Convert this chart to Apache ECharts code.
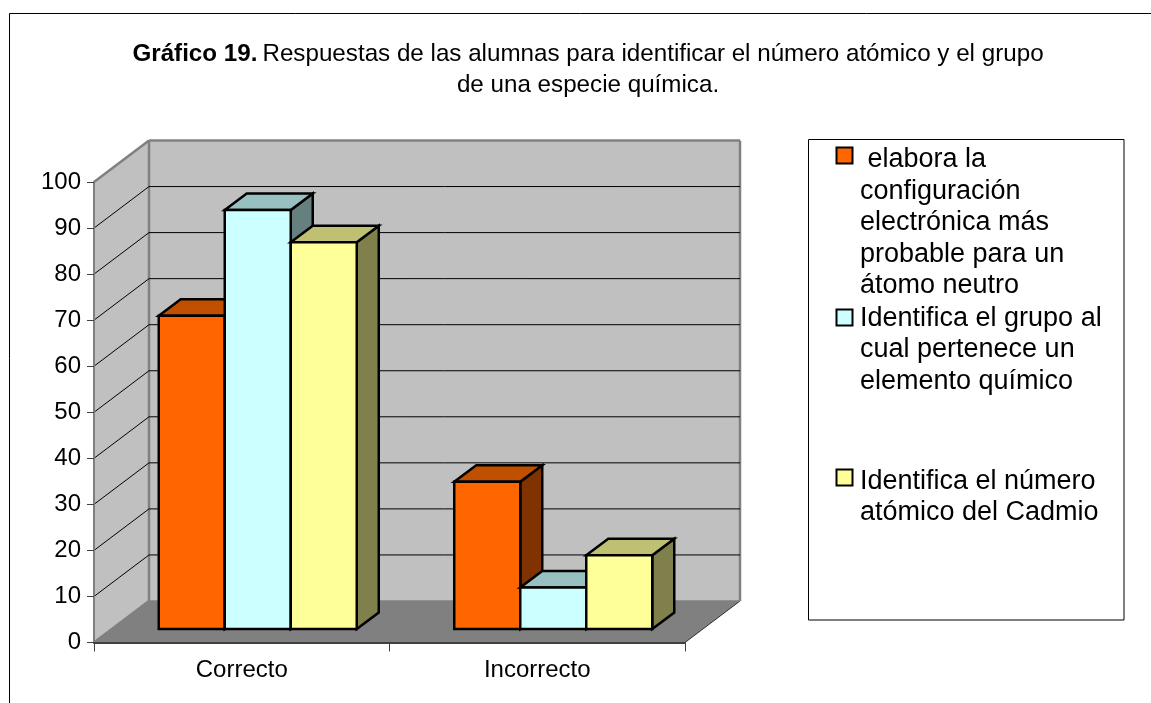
<!DOCTYPE html>
<html>
<head>
<meta charset="utf-8">
<script src="https://cdn.jsdelivr.net/npm/echarts@6/dist/echarts.min.js"></script>
<style>
  html, body { margin: 0; padding: 0; background: #fff; }
  #chart { width: 1151px; height: 703px; }
</style>
</head>
<body>
<div id="chart"></div>
<script>
const categories = ['Correcto', 'Incorrecto'];
const yTicks = [0, 10, 20, 30, 40, 50, 60, 70, 80, 90, 100];
const elaboraValues = [68, 32];
const grupoValues = [91, 9];
const numeroValues = [84, 16];
const elaboraLines = [' elabora la', 'configuración', 'electrónica más', 'probable para un', 'átomo neutro'];
const grupoLines = ['Identifica el grupo al', 'cual pertenece un', 'elemento químico'];
const numeroLines = ['Identifica el número', 'atómico del Cadmio'];

const FONT = '"Liberation Sans", Arial, sans-serif';
const DEPTH = { x: 55, y: -41.5 };        // wall offset behind the front plane
const BAR_DEPTH = { x: 22, y: -16.5 };    // depth of a single bar
const BAR_INSET = { x: 16, y: -13.5 };    // front of the bars relative to the front plane
const BAR_WIDTH = 66;
const LEGEND_LINE = 31.5;

const poly = (points, fill, stroke, width) => ({
  type: 'polygon',
  shape: { points },
  style: { fill, stroke: stroke || 'none', lineWidth: width || 0, lineJoin: 'miter' }
});
const line = (a, b, stroke, width) => ({
  type: 'line',
  shape: { x1: a[0], y1: a[1], x2: b[0], y2: b[1] },
  style: { stroke, lineWidth: width }
});

// Side wall, back wall and floor of the 3D box
function renderBox(params, api) {
  const band = api.size([1, 0])[0];
  const c0 = api.coord([0, 0]);
  const c1 = api.coord([0, api.value(1)]);
  const left = c0[0] - band / 2;
  const right = left + band * categories.length;
  const bottom = c0[1];
  const top = c1[1];
  const bx = left + DEPTH.x, bb = bottom + DEPTH.y, bt = top + DEPTH.y, br = right + DEPTH.x;
  return {
    type: 'group',
    children: [
      poly([[bx, bb], [br, bb], [br, bt], [bx, bt]], '#c0c0c0'),
      poly([[left, bottom], [bx, bb], [bx, bt], [left, top]], '#c0c0c0'),
      poly([[left, bottom], [right, bottom], [br, bb], [bx, bb]], '#808080'),
      line([right, bottom], [br, bb], '#303030', 1),
      line([left, top], [bx, bt], '#808080', 2.5),
      line([bx, bt], [br, bt], '#808080', 2.5),
      line([bx, bt], [bx, bb], '#808080', 2.5),
      line([br, bt], [br, bb], '#808080', 2.5),
      line([bx, bb], [br, bb], '#808080', 1.5),
      line([left, bottom], [bx, bb], '#808080', 2.5)
    ]
  };
}

// One gridline per tick, running back along the side wall and across the back wall
function renderGridline(params, api) {
  const v = api.value(1);
  if (v === 0 || v === 100) return null;
  const band = api.size([1, 0])[0];
  const c = api.coord([0, v]);
  const left = c[0] - band / 2;
  const bx = left + DEPTH.x, by = c[1] + DEPTH.y;
  return {
    type: 'group',
    children: [
      line([left, c[1]], [bx, by], '#000', 1),
      line([bx, by], [left + band * categories.length + DEPTH.x, by], '#000', 1)
    ]
  };
}

// A bar drawn as a front face, a lit top and a shaded side
function makeBarRenderer(position, front, topFill, sideFill) {
  return function (params, api) {
    const zero = api.coord([api.value(0), 0]);
    const tip = api.coord([api.value(0), api.value(1)]);
    const x0 = zero[0] + BAR_INSET.x + (position - 1.5) * BAR_WIDTH;
    const x1 = x0 + BAR_WIDTH;
    const yb = zero[1] + BAR_INSET.y;
    const yt = tip[1] + BAR_INSET.y;
    const dx = BAR_DEPTH.x, dy = BAR_DEPTH.y;
    return {
      type: 'group',
      children: [
        poly([[x1, yt], [x1 + dx, yt + dy], [x1 + dx, yb + dy], [x1, yb]], sideFill, '#000', 2.5),
        poly([[x0, yt], [x0 + dx, yt + dy], [x1 + dx, yt + dy], [x1, yt]], topFill, '#000', 2.5),
        poly([[x0, yb], [x0, yt], [x1, yt], [x1, yb]], front, '#000', 2.5)
      ]
    };
  };
}

function barSeries(name, values, position, front, topFill, sideFill) {
  return {
    name,
    type: 'custom',
    z: 4,
    itemStyle: { color: front },
    encode: { x: 0, y: 1 },
    data: values.map((v, i) => [i, v]),
    renderItem: makeBarRenderer(position, front, topFill, sideFill)
  };
}

// Each legend entry keeps its swatch level with the first text line:
// a spacer line above the text balances the lines below it, and its
// height sets how far the text sits under the swatch centre.
function legendFor(lines, fill, iconCenterY, textDrop) {
  const name = lines.join(' ');
  const spacer = (lines.length - 1) * LEGEND_LINE + 2 * textDrop;
  const blockHeight = spacer + lines.length * LEGEND_LINE;
  const textLine = { fontFamily: FONT, fontSize: 27, lineHeight: LEGEND_LINE, color: '#000', padding: [0, 0, 0, 2.5] };
  return {
    data: [{ name, icon: 'rect', itemStyle: { color: fill, borderColor: '#000', borderWidth: 2 } }],
    orient: 'vertical',
    left: 835.5,
    top: iconCenterY - blockHeight / 2,
    padding: 0,
    itemWidth: 16,
    itemHeight: 16,
    selectedMode: false,
    formatter: () => ['{s| }'].concat(lines.map(t => '{t|' + t + '}')).join('\n'),
    textStyle: {
      rich: {
        s: { fontSize: 1, lineHeight: spacer, height: spacer },
        t: textLine
      }
    }
  };
}

const chart = echarts.init(document.getElementById('chart'), null, { renderer: 'canvas' });

chart.setOption({
  animation: false,
  backgroundColor: '#fff',
  title: {
    left: 583,
    top: 34,
    textAlign: 'center',
    text: '{b|Gráfico 19.} {n|Respuestas de las alumnas para identificar el número atómico y el grupo}\n{n|de una especie química.}',
    textStyle: {
      fontWeight: 'normal',
      rich: {
        b: { fontFamily: FONT, fontSize: 24.2, fontWeight: 'bold', color: '#000', lineHeight: 31 },
        n: { fontFamily: FONT, fontSize: 24.2, fontWeight: 'normal', color: '#000', lineHeight: 31 }
      }
    }
  },
  legend: [
    legendFor(elaboraLines, '#ff6600', 155.5, 4.5),
    legendFor(grupoLines, '#ccffff', 317.5, 1),
    legendFor(numeroLines, '#ffff99', 477.5, 4)
  ],
  grid: { left: 94, right: 466, top: 182, bottom: 60.5 },
  xAxis: {
    type: 'category',
    data: categories,
    z: 10,
    axisLine: { show: true, lineStyle: { color: '#404040', width: 2 } },
    axisTick: { show: true, length: 9, lineStyle: { color: '#404040', width: 1 } },
    axisLabel: { fontFamily: FONT, fontSize: 24, color: '#000', margin: 16 }
  },
  yAxis: {
    type: 'value',
    min: 0,
    max: 100,
    interval: 10,
    z: 10,
    splitLine: { show: false },
    axisLine: { show: true, lineStyle: { color: '#808080', width: 2 } },
    axisTick: { show: true, length: 7, lineStyle: { color: '#404040', width: 1 } },
    axisLabel: { fontFamily: FONT, fontSize: 24, color: '#000', margin: 13 }
  },
  series: [
    { type: 'custom', z: 1, silent: true, encode: { x: 0, y: 1 }, data: [[0, 100]], renderItem: renderBox },
    { type: 'custom', z: 2, silent: true, encode: { x: 0, y: 1 }, data: yTicks.map(v => [0, v]), renderItem: renderGridline },
    barSeries(elaboraLines.join(' '), elaboraValues, 0, '#ff6600', '#c05000', '#803300'),
    barSeries(grupoLines.join(' '), grupoValues, 1, '#ccffff', '#99c0c0', '#668080'),
    barSeries(numeroLines.join(' '), numeroValues, 2, '#ffff99', '#c0c073', '#80804d')
  ],
  graphic: [
    { type: 'rect', z: -1, silent: true, shape: { x: 9.5, y: 13.5, width: 1300, height: 900 }, style: { fill: 'none', stroke: '#000', lineWidth: 1 } },
    { type: 'rect', z: -1, silent: true, shape: { x: 808.5, y: 139.5, width: 315.5, height: 480.5 }, style: { fill: '#fff', stroke: '#000', lineWidth: 1 } }
  ]
});
</script>
</body>
</html>
